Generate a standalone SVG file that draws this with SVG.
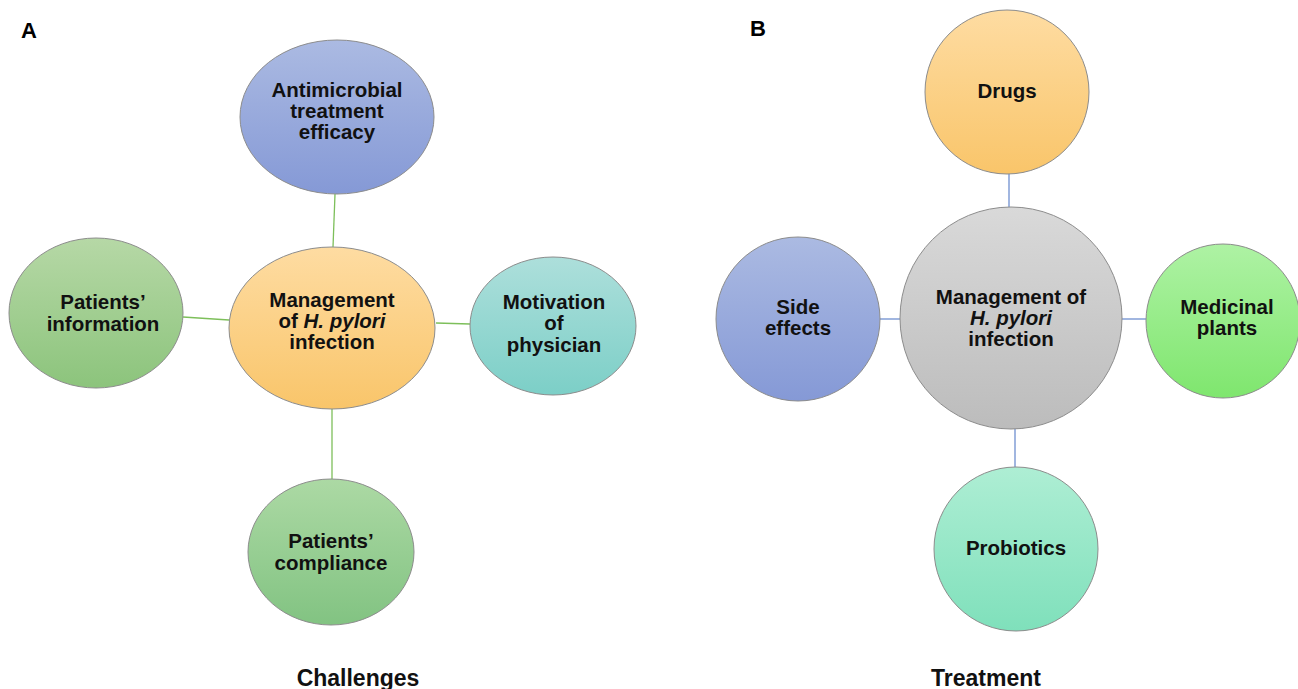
<svg xmlns="http://www.w3.org/2000/svg" width="1298" height="689" viewBox="0 0 1298 689">
  <style>
    .node { stroke: #8c8c8c; stroke-width: 1; }
    .lbl { font-family: "Liberation Sans", Arial, sans-serif; font-weight: bold; font-size: 20.5px; fill: #111; text-anchor: middle; }
    .cap { font-family: "Liberation Sans", Arial, sans-serif; font-weight: bold; font-size: 23px; fill: #111; text-anchor: middle; }
    .panel { font-family: "Liberation Sans", Arial, sans-serif; font-weight: bold; font-size: 22px; fill: #000; }
    .linkA { stroke: #7dbf5a; stroke-width: 1.3; fill: none; }
    .linkB { stroke: #6f8fd0; stroke-width: 1.3; fill: none; }
  </style>
  <defs>
    <linearGradient id="gBlue" x1="0" y1="0" x2="0" y2="1"><stop offset="0" stop-color="#abbae2"/><stop offset="1" stop-color="#8599d6"/></linearGradient>
    <linearGradient id="gOrange" x1="0" y1="0" x2="0" y2="1"><stop offset="0" stop-color="#fedca2"/><stop offset="1" stop-color="#f9c56a"/></linearGradient>
    <linearGradient id="gGreen" x1="0" y1="0" x2="0" y2="1"><stop offset="0" stop-color="#b6d8a6"/><stop offset="1" stop-color="#8cc47c"/></linearGradient>
    <linearGradient id="gTeal" x1="0" y1="0" x2="0" y2="1"><stop offset="0" stop-color="#addfdb"/><stop offset="1" stop-color="#7ccfc7"/></linearGradient>
    <linearGradient id="gGreen2" x1="0" y1="0" x2="0" y2="1"><stop offset="0" stop-color="#acd9a4"/><stop offset="1" stop-color="#82c382"/></linearGradient>
    <linearGradient id="gGray" x1="0" y1="0" x2="0" y2="1"><stop offset="0" stop-color="#d9d9d9"/><stop offset="1" stop-color="#bcbcbc"/></linearGradient>
    <linearGradient id="gLime" x1="0" y1="0" x2="0" y2="1"><stop offset="0" stop-color="#aef2a4"/><stop offset="1" stop-color="#7fe66e"/></linearGradient>
    <linearGradient id="gMint" x1="0" y1="0" x2="0" y2="1"><stop offset="0" stop-color="#aeeed4"/><stop offset="1" stop-color="#7fe0bb"/></linearGradient>
  </defs>

  <rect width="1298" height="689" fill="#fff"/>

  <!-- panel letters -->
  <text class="panel" x="21" y="38">A</text>
  <text class="panel" x="750" y="36">B</text>

  <!-- connectors -->
  <g id="connectors">
    <line class="linkA" x1="335" y1="194" x2="333" y2="247"/>
    <line class="linkA" x1="183" y1="317" x2="229" y2="320"/>
    <line class="linkA" x1="436" y1="323" x2="470" y2="324"/>
    <line class="linkA" x1="332" y1="409" x2="332" y2="479"/>
    <line class="linkB" x1="1009" y1="174" x2="1009" y2="207"/>
    <line class="linkB" x1="880" y1="319" x2="900" y2="319"/>
    <line class="linkB" x1="1122" y1="319" x2="1146" y2="319"/>
    <line class="linkB" x1="1015" y1="429" x2="1015" y2="467"/>
  </g>

  <!-- Panel A: challenges -->
  <g id="a-antimicrobial">
    <ellipse class="node" cx="337" cy="117" rx="97" ry="77" fill="url(#gBlue)"/>
    <text class="lbl" x="337" y="97">Antimicrobial</text>
    <text class="lbl" x="337" y="118">treatment</text>
    <text class="lbl" x="337" y="139">efficacy</text>
  </g>
  <g id="a-management">
    <ellipse class="node" cx="332" cy="328" rx="103" ry="81" fill="url(#gOrange)"/>
    <text class="lbl" x="332" y="307">Management</text>
    <text class="lbl" x="332" y="328">of <tspan font-style="italic">H. pylori</tspan></text>
    <text class="lbl" x="332" y="349">infection</text>
  </g>
  <g id="a-patients-information">
    <ellipse class="node" cx="96" cy="313" rx="87" ry="75" fill="url(#gGreen)"/>
    <text class="lbl" x="103" y="309">Patients’</text>
    <text class="lbl" x="103" y="331">information</text>
  </g>
  <g id="a-motivation">
    <ellipse class="node" cx="553" cy="326" rx="83" ry="69" fill="url(#gTeal)"/>
    <text class="lbl" x="554" y="309">Motivation</text>
    <text class="lbl" x="554" y="330">of</text>
    <text class="lbl" x="554" y="352">physician</text>
  </g>
  <g id="a-compliance">
    <ellipse class="node" cx="331" cy="552" rx="83" ry="73" fill="url(#gGreen2)"/>
    <text class="lbl" x="331" y="548">Patients’</text>
    <text class="lbl" x="331" y="570">compliance</text>
  </g>
  <text class="cap" x="358" y="686">Challenges</text>

  <!-- Panel B: treatment -->
  <g id="b-drugs">
    <circle class="node" cx="1007" cy="92" r="82" fill="url(#gOrange)"/>
    <text class="lbl" x="1007" y="98">Drugs</text>
  </g>
  <g id="b-management">
    <circle class="node" cx="1011" cy="318" r="111" fill="url(#gGray)"/>
    <text class="lbl" x="1011" y="304">Management of</text>
    <text class="lbl" x="1011" y="325" font-style="italic">H. pylori</text>
    <text class="lbl" x="1011" y="346">infection</text>
  </g>
  <g id="b-side-effects">
    <circle class="node" cx="798" cy="319" r="82" fill="url(#gBlue)"/>
    <text class="lbl" x="798" y="314">Side</text>
    <text class="lbl" x="798" y="335">effects</text>
  </g>
  <g id="b-medicinal">
    <circle class="node" cx="1223" cy="321" r="77" fill="url(#gLime)"/>
    <text class="lbl" x="1227" y="314">Medicinal</text>
    <text class="lbl" x="1227" y="335">plants</text>
  </g>
  <g id="b-probiotics">
    <circle class="node" cx="1016" cy="549" r="82" fill="url(#gMint)"/>
    <text class="lbl" x="1016" y="555">Probiotics</text>
  </g>
  <text class="cap" x="986" y="686">Treatment</text>
</svg>
